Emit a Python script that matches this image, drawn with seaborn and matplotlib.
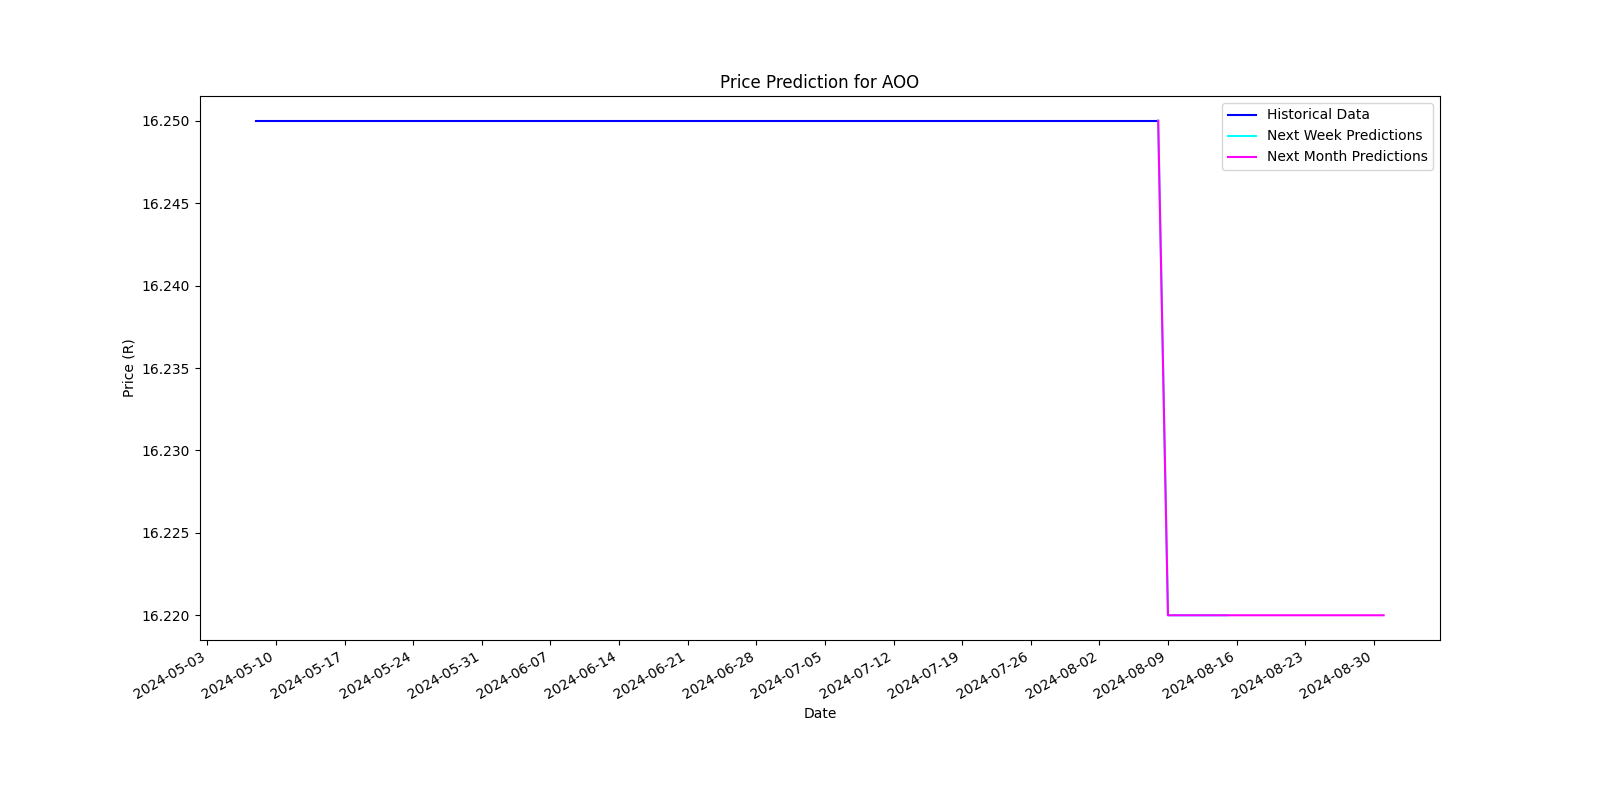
import matplotlib
matplotlib.use("Agg")
import matplotlib.pyplot as plt
import matplotlib.dates as mdates
import pandas as pd
import seaborn as sns

TICKER = "AOO"

# historical closing prices (flat)
hist_dates  = ["2024-05-08", "2024-06-07", "2024-07-08", "2024-08-08"]
hist_prices = [16.25, 16.25, 16.25, 16.25]

# next week forecast, starts from last historical point
week_dates  = ["2024-08-08", "2024-08-09", "2024-08-12", "2024-08-15"]
week_prices = [16.25, 16.22, 16.22, 16.22]

# next month forecast
month_dates  = ["2024-08-08", "2024-08-09", "2024-08-20", "2024-08-31"]
month_prices = [16.25, 16.22, 16.22, 16.22]


def to_frame(dates, prices):
    return pd.DataFrame({"Date": pd.to_datetime(dates), "Price": prices})


hist  = to_frame(hist_dates, hist_prices)
week  = to_frame(week_dates, week_prices)
month = to_frame(month_dates, month_prices)

fig, ax = plt.subplots(figsize=(16, 8))

sns.lineplot(data=hist,  x="Date", y="Price", color="blue",    label="Historical Data", ax=ax)
sns.lineplot(data=week,  x="Date", y="Price", color="cyan",    label="Next Week Predictions", ax=ax)
sns.lineplot(data=month, x="Date", y="Price", color="magenta", label="Next Month Predictions", ax=ax)

ax.set_title(f"Price Prediction for {TICKER}")
ax.set_xlabel("Date")
ax.set_ylabel("Price (R)")

ax.xaxis.set_major_locator(mdates.WeekdayLocator(byweekday=mdates.FR))
ax.xaxis.set_major_formatter(mdates.DateFormatter("%Y-%m-%d"))
ax.yaxis.get_major_formatter().set_useOffset(False)
ax.legend(loc="upper right")

fig.autofmt_xdate()
fig.savefig("out.png", dpi=100)
